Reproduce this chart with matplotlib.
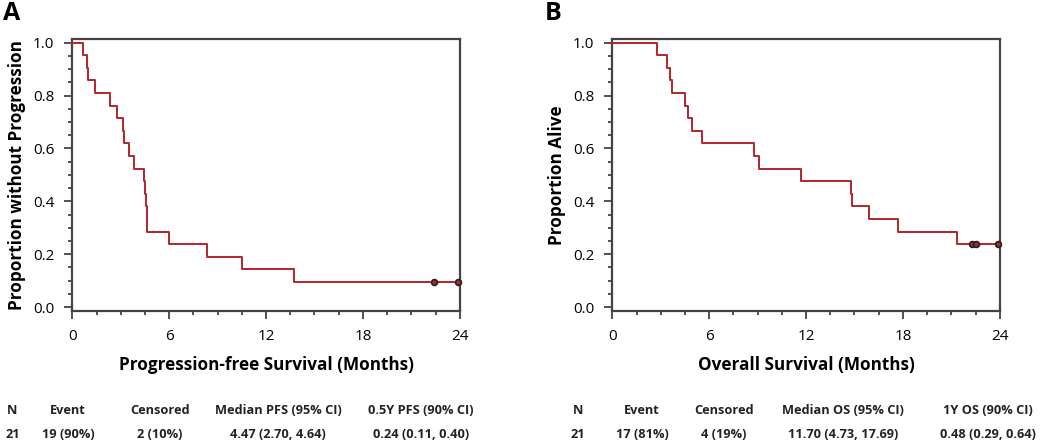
import numpy as np
import matplotlib
matplotlib.use("Agg")
import matplotlib.pyplot as plt
from matplotlib.ticker import MultipleLocator

# ---------------- data ----------------
n_patients = 21
pfs_event_times = [0.67, 0.90, 0.95, 1.39, 2.32, 2.74, 3.15, 3.23, 3.50, 3.81,
                   4.47, 4.50, 4.54, 4.60, 4.64, 5.98, 8.37, 10.49, 13.76]
pfs_censor_times = [22.4, 23.9]

os_event_times = [2.77, 3.39, 3.57, 3.68, 4.50, 4.71, 4.92, 5.53, 8.79, 9.10,
                  11.68, 14.76, 14.84, 15.91, 17.67, 21.32]
os_censor_times = [22.25, 22.55, 23.9, 23.9, 23.9]

x_ticks = [0, 6, 12, 18, 24]
y_ticks = [0.0, 0.2, 0.4, 0.6, 0.8, 1.0]

pfs_headers = ["N", "Event", "Censored", "Median PFS (95% CI)", "0.5Y PFS (90% CI)"]
pfs_values = ["21", "19 (90%)", "2 (10%)", "4.47 (2.70, 4.64)", "0.24 (0.11, 0.40)"]
os_headers = ["N", "Event", "Censored", "Median OS (95% CI)", "1Y OS (90% CI)"]
os_values = ["21", "17 (81%)", "4 (19%)", "11.70 (4.73, 17.69)", "0.48 (0.29, 0.64)"]

# ---------------- style ----------------
RED = "#b3242b"
FONT = "Open Sans"
plt.rcParams["font.family"] = [FONT, "DejaVu Sans"]


def km(events, censors):
    times = sorted(set(events) | set(censors))
    at_risk = len(events) + len(censors)
    s = 1.0
    xs, ys = [0.0], [1.0]
    cx, cy = [], []
    for t in times:
        d = events.count(t)
        c = censors.count(t)
        if d:
            s = s * (1 - d / at_risk)
            xs.append(t)
            ys.append(s)
        if c:
            cx.append(t)
            cy.append(s)
        at_risk -= d + c
    return xs, ys, cx, cy


fig = plt.figure(figsize=(10.5, 4.46), dpi=100)
W, H = 1050, 446


def make_axes(left_px):
    return fig.add_axes([left_px / W, 1 - 311 / H, 387.5 / W, 272 / H])


def style(ax, ylabel, xlabel):
    ax.set_xlim(0, 24)
    ax.set_ylim(-0.015, 1.014)
    ax.set_xticks(x_ticks)
    ax.set_yticks(y_ticks)
    ax.set_yticklabels([f"{v:.1f}" for v in y_ticks])
    ax.xaxis.set_minor_locator(MultipleLocator(1.5))
    ax.yaxis.set_minor_locator(MultipleLocator(0.05))
    ax.tick_params(which="major", direction="out", length=6, width=1.2,
                   color="#333333", labelsize=11, pad=7)
    ax.tick_params(which="minor", direction="out", length=3, width=1.2,
                   color="#333333")
    for sp in ax.spines.values():
        sp.set_color("#444444")
        sp.set_linewidth(1.6)
    ax.set_ylabel(ylabel, fontsize=12.3, fontweight="bold")
    ax.set_xlabel(xlabel, fontsize=12.3, fontweight="bold")
    ax.yaxis.label.set_va("center")
    ax.xaxis.label.set_va("center")
    ax.yaxis.set_label_coords(-0.143, 0.5)
    ax.xaxis.set_label_coords(0.5, -0.20)


def draw(ax, events, censors):
    xs, ys, cx, cy = km(events, censors)
    xs = xs + [24]
    ys = ys + [ys[-1]]
    ax.step(xs, ys, where="post", color=RED, lw=1.4, clip_on=False, zorder=3)
    ax.plot(cx, cy, "o", ms=4.2, mfc=RED, mec="#222222", mew=1.2,
            clip_on=False, zorder=4)


axA = make_axes(72.3)
draw(axA, pfs_event_times, pfs_censor_times)
style(axA, "Proportion without Progression", "Progression-free Survival (Months)")

axB = make_axes(612.3)
draw(axB, os_event_times, os_censor_times)
style(axB, "Proportion Alive", "Overall Survival (Months)")

fig.text(12 / W, 1 - 13 / H, "A", fontsize=18, fontweight="bold",
         ha="center", va="center")
fig.text(553 / W, 1 - 13 / H, "B", fontsize=18, fontweight="bold",
         ha="center", va="center")

# tables
pfs_cols = [12.5, 68, 160, 278, 421]
os_cols = [578, 642, 724, 843, 988]
for cols, heads, vals in [(pfs_cols, pfs_headers, pfs_values),
                          (os_cols, os_headers, os_values)]:
    for x, h, v in zip(cols, heads, vals):
        fig.text(x / W, 1 - 411 / H, h, fontsize=9.2, fontweight="bold",
                 ha="center", va="center", color="#222222")
        fig.text(x / W, 1 - 435 / H, v, fontsize=9.2, fontweight="bold",
                 ha="center", va="center", color="#222222")

fig.savefig("out.png", dpi=100)
